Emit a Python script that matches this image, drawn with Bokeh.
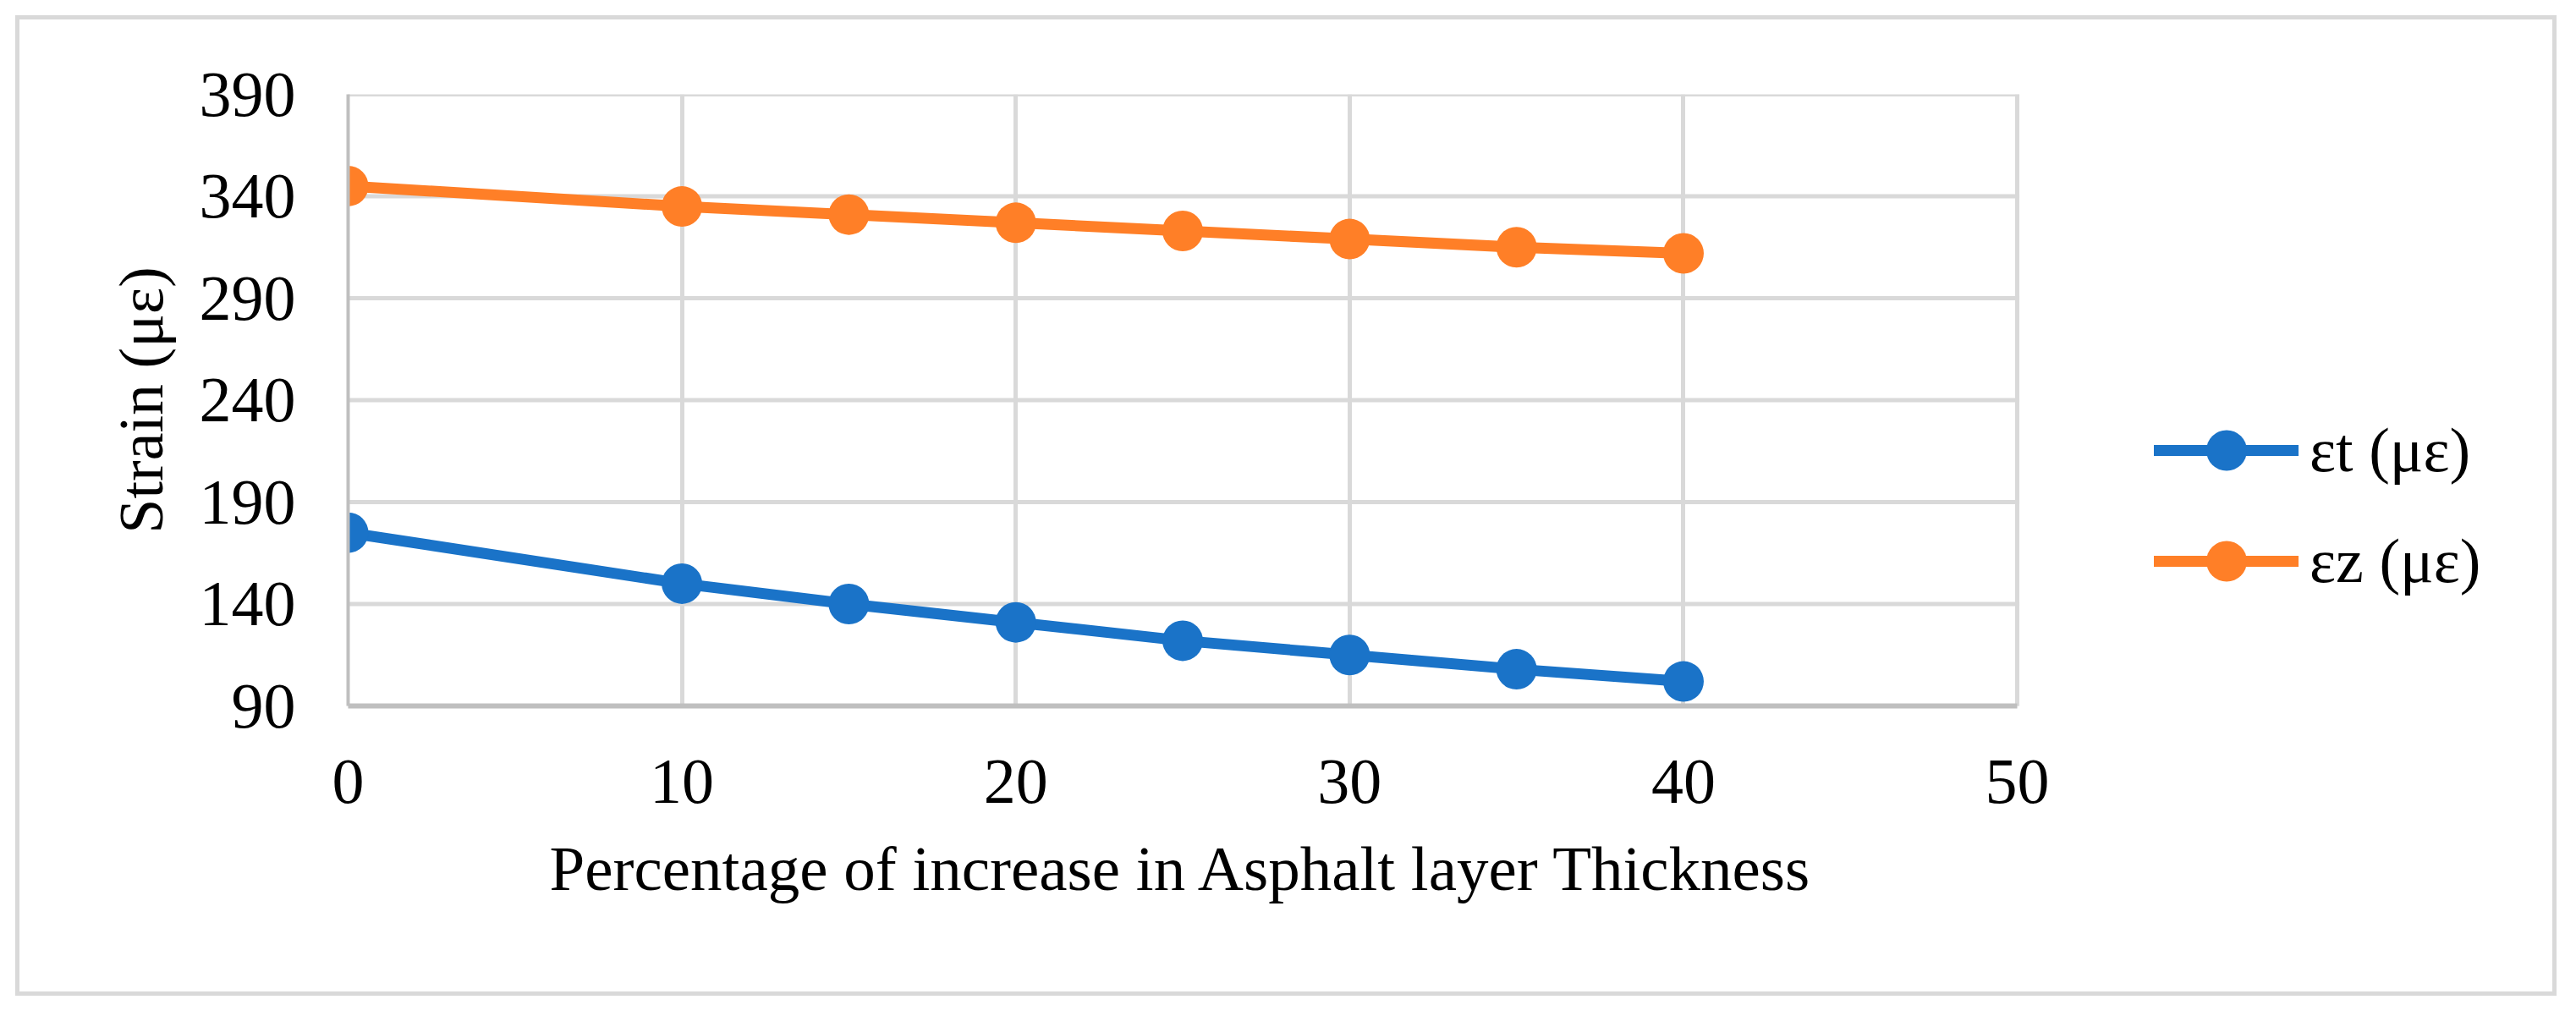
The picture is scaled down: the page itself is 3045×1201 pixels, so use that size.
from bokeh.plotting import figure
from bokeh.models import FixedTicker, Range1d, Legend, LegendItem, Title
from bokeh.embed import file_html
from bokeh.resources import INLINE

x_values = [0, 10, 15, 20, 25, 30, 35, 40]
eps_t = [175, 150, 140, 131, 122, 115, 108, 102]
eps_z = [345, 335, 331, 327, 323, 319, 315, 312]
x_ticks = [0, 10, 20, 30, 40, 50]
y_ticks = [90, 140, 190, 240, 290, 340, 390]
series_names = ["\u03b5t (\u03bc\u03b5)", "\u03b5z (\u03bc\u03b5)"]
x_title = "Percentage of increase in Asphalt layer Thickness"
y_title = "Strain (\u03bc\u03b5)"

BLUE = "#1A73C8"
ORANGE = "#FF7F27"
GRID = "#D9D9D9"
AXIS = "#BFBFBF"
FONT = "Liberation Serif"

# the frame extends to the right (up to x=65) to hold the legend; axis and grid stop at 50
X_END = 65

p = figure(width=3040, height=1195, output_backend="svg", toolbar_location=None,
           x_range=Range1d(x_ticks[0], X_END), y_range=Range1d(y_ticks[0], y_ticks[-1]),
           min_border_left=411, min_border_right=64, min_border_top=111, min_border_bottom=361,
           background_fill_color=None, border_fill_color=None)
p.styles = {"background-color": "white",
            "box-shadow": "inset 0 0 0 18px #FFFFFF, inset 0 0 0 23px #D9D9D9"}
p.outline_line_color = None

p.xaxis.ticker = FixedTicker(ticks=x_ticks)
p.yaxis.ticker = FixedTicker(ticks=y_ticks)
p.xaxis.bounds = (x_ticks[0], x_ticks[-1])
for ax in (p.xaxis, p.yaxis):
    ax.major_tick_in = 0
    ax.major_tick_out = 0
    ax.minor_tick_in = 0
    ax.minor_tick_out = 0
    ax.major_label_text_font = FONT
    ax.major_label_text_font_size = "76px"
    ax.major_label_text_color = "black"
    ax.axis_label_text_font = FONT
    ax.axis_label_text_font_style = "normal"
    ax.axis_label_text_color = "black"
    ax.axis_line_color = AXIS
    ax.axis_line_width = 6

p.yaxis.axis_label_text_font_size = "74px"
p.xaxis.major_label_standoff = 64
p.yaxis.major_label_standoff = 62
p.yaxis.axis_label = y_title
p.yaxis.axis_label_standoff = 25
p.yaxis.axis_line_width = 4

# x title placed under the 0..50 axis extent
p.add_layout(Title(text=x_title, align="left", offset=238, vertical_align="top",
                   standoff=66, text_font=FONT, text_font_size="75px",
                   text_font_style="normal", text_color="black"), "below")

p.xgrid.ticker = FixedTicker(ticks=x_ticks)
p.xgrid.grid_line_color = GRID
p.xgrid.grid_line_width = 5
p.ygrid.visible = False

# horizontal gridlines limited to the axis extent
p.segment(x0=[x_ticks[0]] * len(y_ticks), y0=y_ticks,
          x1=[x_ticks[-1]] * len(y_ticks), y1=y_ticks,
          line_color=GRID, line_width=5, line_cap="square", level="underlay")

r_items = []
for ys, col in ((eps_t, BLUE), (eps_z, ORANGE)):
    ln = p.line(x_values, ys, line_color=col, line_width=13, line_cap="round", line_join="round")
    sc = p.scatter(x_values, ys, size=48, fill_color=col, line_color=col, line_width=0)
    r_items.append([ln, sc])

legend = Legend(items=[LegendItem(label=series_names[0], renderers=r_items[0]),
                       LegendItem(label=series_names[1], renderers=r_items[1])],
                location=(2135, 111), orientation="vertical",
                glyph_width=171, glyph_height=120, label_height=120,
                label_standoff=13, spacing=11, padding=0, margin=0,
                border_line_color=None, background_fill_alpha=0,
                label_text_font=FONT, label_text_font_size="74px", label_text_color="black")
p.add_layout(legend, "center")

open("out.html", "w").write(file_html(p, INLINE))
